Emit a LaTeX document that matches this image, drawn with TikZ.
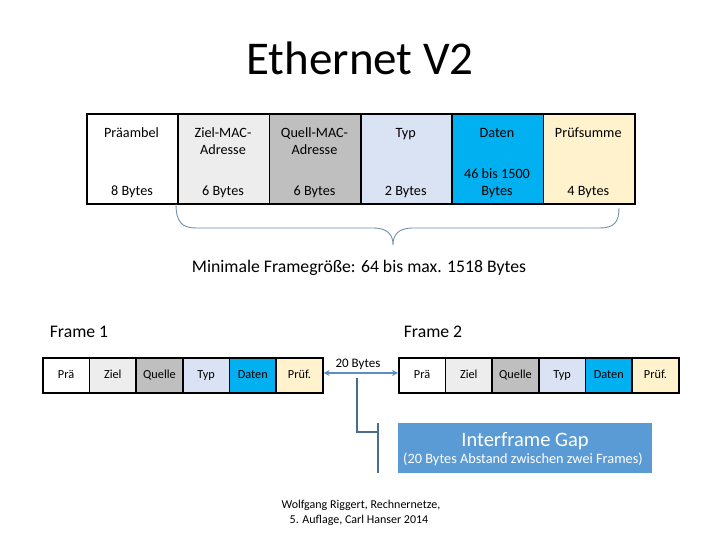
\documentclass[tikz,border=0pt]{standalone}
\usepackage{fontspec}
\setmainfont{Carlito}
\usetikzlibrary{arrows.meta}
\definecolor{cZiel}{HTML}{EDEDED}
\definecolor{cQuell}{HTML}{BFBFBF}
\definecolor{cTyp}{HTML}{DAE3F3}
\definecolor{cDaten}{HTML}{00B0F0}
\definecolor{cPruef}{HTML}{FFF2CC}
\definecolor{cArrow}{HTML}{5B8EC4}
\definecolor{cCall}{HTML}{4A6C8F}
\definecolor{cBrace}{HTML}{6F8FAA}
\definecolor{cGap}{HTML}{5B9BD5}
\tikzset{
  cell/.style={draw=black, line width=1.6pt, minimum width=91.33pt, minimum height=90pt, inner sep=0pt, anchor=north west},
  fcell/.style={draw=black, line width=1.6pt, minimum width=46.67pt, minimum height=35pt, inner sep=0pt, text height=9pt, text depth=3pt, anchor=north west, font=\fontsize{12.3}{14}\selectfont},
  hdr/.style={font=\fontsize{14.2}{16}\selectfont, anchor=base, inner sep=0pt},
  arr/.style={draw=cArrow, line width=1.6pt, -{Stealth[length=6pt,width=6pt]}},
  call/.style={draw=cCall, line width=1.6pt},
  big/.style={font=\fontsize{17.7}{20}\selectfont, anchor=base, inner sep=0pt},
}
\begin{document}
\begin{tikzpicture}[x=1pt,y=-1pt]
\useasboundingbox (0,0) rectangle (720,540);
\node[font=\fontsize{47}{50}\selectfont, anchor=base, inner sep=0pt] (title) at (360,75) {Ethernet V2};
% top table
\node[cell, fill=white]  (c1) at (86,113) {};
\node[cell, fill=cZiel]  (c2) at (177.33,113) {};
\node[cell, fill=cQuell] (c3) at (268.67,113) {};
\node[cell, fill=cTyp]   (c4) at (360,113) {};
\node[cell, fill=cDaten] (c5) at (451.33,113) {};
\node[cell, fill=cPruef] (c6) at (542.67,113) {};
\node[hdr] (h1) at (131.5,138) {Präambel};
\node[hdr] (h2) at (223,138) {Ziel-MAC-};
\node[hdr] (h2b) at (223,155) {Adresse};
\node[hdr] (h3) at (314.5,138) {Quell-MAC-};
\node[hdr] (h3b) at (314.5,155) {Adresse};
\node[hdr] (h4) at (405.7,138) {Typ};
\node[hdr] (h5) at (497,138) {Daten};
\node[hdr] (h6) at (588.3,138) {Prüfsumme};
\node[hdr] (b1) at (132,196) {8 Bytes};
\node[hdr] (b2) at (223,196) {6 Bytes};
\node[hdr] (b3) at (314.5,196) {6 Bytes};
\node[hdr] (b4) at (405.7,196) {2 Bytes};
\node[hdr] (b5) at (497,179) {46 bis 1500};
\node[hdr] (b5b) at (497,196) {Bytes};
\node[hdr] (b6) at (588.3,196) {4 Bytes};
% brace
\draw[cBrace, line width=0.9pt] (176,204) .. controls (176,222) and (182,228) .. (196,228) -- (373,228) .. controls (388,228) and (393,235) .. (393,245) .. controls (393,235) and (398,228) .. (413,228) -- (600,228) .. controls (614,228) and (619,222) .. (619,208);
\node[big] (min) at (359,272) {Minimale Framegröße: 64 bis max. 1518 Bytes};
% frames
\node[big] (fr1) at (79,337) {Frame 1};
\node[big] (fr2) at (433,337) {Frame 2};
\node[fcell, fill=white]  (a1) at (42,357) {Prä};
\node[fcell, fill=cZiel]  (a2) at (88.67,357) {Ziel};
\node[fcell, fill=cQuell] (a3) at (135.33,357) {Quelle};
\node[fcell, fill=cTyp]   (a4) at (182,357) {Typ};
\node[fcell, fill=cDaten] (a5) at (228.67,357) {Daten};
\node[fcell, fill=cPruef] (a6) at (275.33,357) {Prüf.};
\node[fcell, fill=white]  (d1) at (398,357) {Prä};
\node[fcell, fill=cZiel]  (d2) at (444.67,357) {Ziel};
\node[fcell, fill=cQuell] (d3) at (491.33,357) {Quelle};
\node[fcell, fill=cTyp]   (d4) at (538,357) {Typ};
\node[fcell, fill=cDaten] (d5) at (584.67,357) {Daten};
\node[fcell, fill=cPruef] (d6) at (631.33,357) {Prüf.};
% gap arrows
\coordinate (m) at (357,373);
\draw[arr] (m) -- (a6.east |- m);
\draw[arr] (m) -- (d1.west |- m);
\node[font=\fontsize{13}{15}\selectfont, anchor=base, inner sep=0pt] (twenty) at (358,367) {20 Bytes};
% callout
\node[fill=cGap, minimum width=254pt, minimum height=50pt, anchor=north west, inner sep=0pt] (gap) at (398,423) {};
\node[text=white, font=\fontsize{20.5}{22}\selectfont, anchor=base, inner sep=0pt] (gapt) at (525,446) {Interframe Gap};
\node[text=white, font=\fontsize{14.3}{16}\selectfont, anchor=base, inner sep=0pt] (gaps) at (523,463) {(20 Bytes Abstand zwischen zwei Frames)};
\coordinate (k1) at (357,378);
\coordinate (k2) at (357,432);
\coordinate (k3) at (378,432);
\coordinate (bt) at (378,423);
\coordinate (bb) at (378,473);
\draw[call] (k1) -- (k2) -- (k3);
\draw[call] (bt) -- (bb);
% citation
\node[font=\fontsize{12}{15}\selectfont, anchor=base, inner sep=0pt] (cite) at (361,508) {Wolfgang Riggert, Rechnernetze,};
\node[font=\fontsize{12}{15}\selectfont, anchor=base, inner sep=0pt] (cite2) at (359,523) {5. Auflage, Carl Hanser 2014};
\end{tikzpicture}
\end{document}
